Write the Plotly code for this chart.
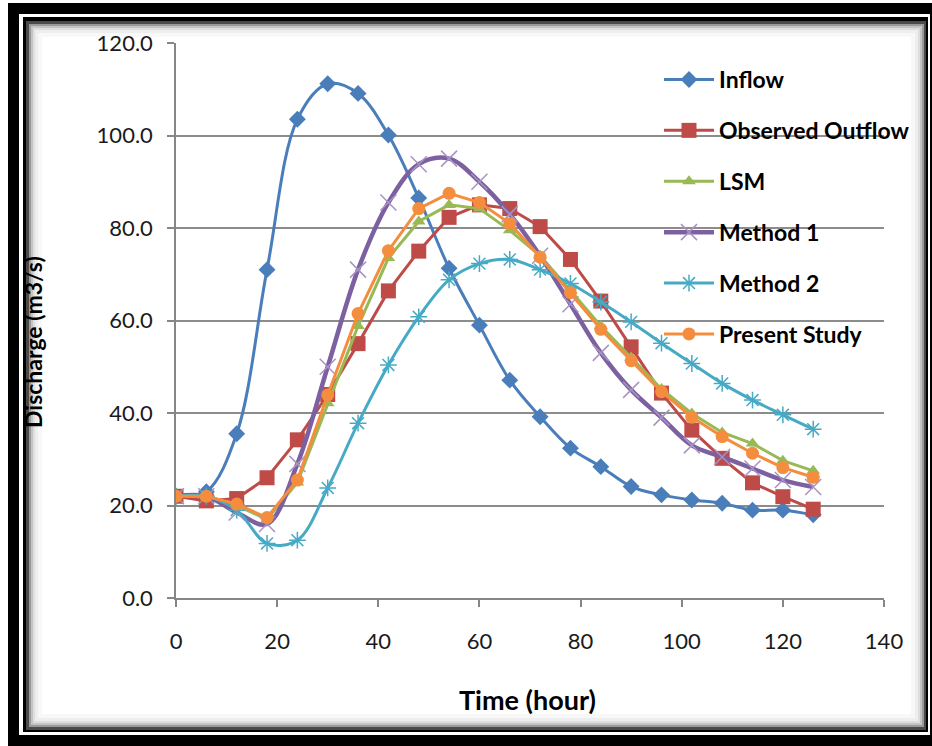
import plotly.graph_objects as go

W, H = 932, 746

# ---- data -------------------------------------------------------------
time_h = [0, 6, 12, 18, 24, 30, 36, 42, 48, 54, 60, 66, 72, 78, 84, 90,
          96, 102, 108, 114, 120, 126]

inflow = [22, 23, 35.5, 71, 103.5, 111.2, 109.1, 100.1, 86.5, 71.3, 59, 47.1,
          39.2, 32.4, 28.4, 24.1, 22.3, 21.2, 20.5, 19, 19, 18]
observed_outflow = [22, 21, 21.5, 26, 34.2, 44, 55, 66.4, 75, 82.3, 85, 84.2,
                    80.3, 73.2, 64.2, 54.3, 44.3, 36.3, 30.2, 24.9, 21.9, 19.2]
lsm = [22, 22, 20, 17, 25, 42.1, 58.8, 73.5, 81.4, 85, 84.2, 79.5,
       74, 66.5, 58.8, 52, 45.2, 39.9, 35.8, 33.4, 29.7, 27.5]
method_1 = [22, 22, 18.5, 16, 29, 50, 71, 85.5, 93.8, 95, 90, 83,
            74, 63.5, 53, 45, 39, 33, 30.5, 28, 25.5, 24]
method_2 = [22, 22, 19, 11.8, 12.5, 23.8, 37.8, 50.4, 60.8, 68.8, 72.3, 73.2,
            71, 68, 64, 59.7, 55.1, 50.7, 46.4, 42.8, 39.6, 36.5]
present_study = [22, 22, 20.3, 17.4, 25.5, 43.9, 61.5, 75.1, 84.2, 87.5, 85.5, 81,
                 73.7, 66, 58.1, 51.3, 44.6, 39.1, 34.9, 31.3, 28.2, 26.1]

FONT = "Lato, 'Open Sans', sans-serif"

series = [
    dict(name="Inflow", y=inflow, color="#4A7EBB", width=3, shape="spline",
         marker=dict(symbol="diamond", size=13, color="#4A7EBB")),
    dict(name="Observed Outflow", y=observed_outflow, color="#BE4B48", width=3, shape="linear",
         marker=dict(symbol="square", size=15, color="#BE4B48")),
    dict(name="LSM", y=lsm, color="#98B954", width=3, shape="linear",
         marker=dict(symbol="triangle-up", size=12, color="#98B954")),
    dict(name="Method 1", y=method_1, color="#7D60A0", width=4.5, shape="spline",
         marker=dict(symbol="x-thin-open", size=16, color="#A793C4",
                     line=dict(color="#A793C4", width=1.5))),
    dict(name="Method 2", y=method_2, color="#46AAC5", width=3, shape="spline",
         marker=dict(symbol="asterisk-open", size=14, color="#46AAC5",
                     line=dict(color="#7CC3D8", width=1.5))),
    dict(name="Present Study", y=present_study, color="#F58D3F", width=3, shape="linear",
         marker=dict(symbol="circle", size=13, color="#F58D3F")),
]

fig = go.Figure()
for s in series:
    fig.add_trace(go.Scatter(
        x=time_h, y=s["y"], name=s["name"], legendgroup=s["name"],
        mode="lines+markers",
        line=dict(color=s["color"], width=s["width"], shape=s["shape"]),
        marker=s["marker"],
    ))


# ---- picture frame (pixel coordinates converted to paper) ---------------
def rect(x0, y0, x1, y1, color):
    return dict(type="rect", xref="paper", yref="paper", layer="below",
                x0=x0 / W, x1=x1 / W, y0=1 - y1 / H, y1=1 - y0 / H,
                fillcolor=color, line=dict(width=0))


shapes = [
    rect(8, 3, W + 5, H + 5, "#000000"),
    rect(19, 14, 930, 735, "#FFFFFF"),
    rect(23, 17, 928, 732, "#000000"),
    rect(26, 21, 926, 730, "#4A4A4A"),
    rect(29, 24, 924, 727, "#9A9A9A"),
    rect(31, 26, 922, 725, "#C4C4C4"),
    rect(33, 28, 920, 723, "#DEDEDE"),
    rect(35, 30, 918, 721, "#EEEEEE"),
    rect(38, 33, 915, 718, "#F8F8F8"),
    rect(42, 37, 911, 714, "#FFFFFF"),
]

annotations = [
    dict(text="<b>Time (hour)</b>", xref="paper", yref="paper",
         x=527 / W, y=1 - 699 / H, xanchor="center", yanchor="middle",
         showarrow=False,
         font=dict(family=FONT, size=27, color="#000000")),
    dict(text="<b>Discharge (m3/s)</b>", xref="paper", yref="paper",
         x=33 / W, y=1 - 342 / H, xanchor="center", yanchor="middle",
         showarrow=False, textangle=-90,
         font=dict(family=FONT, size=23, color="#000000")),
]

axis_common = dict(
    showline=True, linecolor="#868686", linewidth=1.5,
    ticks="outside", tickcolor="#868686", tickwidth=1.5, ticklen=7,
    tickfont=dict(family=FONT, size=22, color="#1A1A1A"),
    automargin=False, zeroline=False,
)

fig.update_layout(
    width=W, height=H, autosize=False,
    margin=dict(l=0, r=0, t=0, b=0),
    paper_bgcolor="#FFFFFF", plot_bgcolor="rgba(0,0,0,0)",
    shapes=shapes, annotations=annotations,
    xaxis=dict(domain=[176 / W, 884 / W], range=[0, 140], dtick=20, tick0=0,
               showgrid=False, ticklabelstandoff=16, **axis_common),
    yaxis=dict(domain=[1 - 598 / H, 1 - 43 / H], range=[0, 120], dtick=20, tick0=0,
               tickformat=".1f", showgrid=True, gridcolor="#8C8C8C", gridwidth=1.5,
               ticklabelstandoff=10, **axis_common),
    legend=dict(x=659 / W, y=1 - 58 / H, xanchor="left", yanchor="top",
                bgcolor="rgba(0,0,0,0)", traceorder="grouped", tracegroupgap=18,
                itemwidth=50,
                font=dict(family=FONT, size=23, color="#000000", weight="bold")),
    showlegend=True,
)

fig.write_html("out.html")
